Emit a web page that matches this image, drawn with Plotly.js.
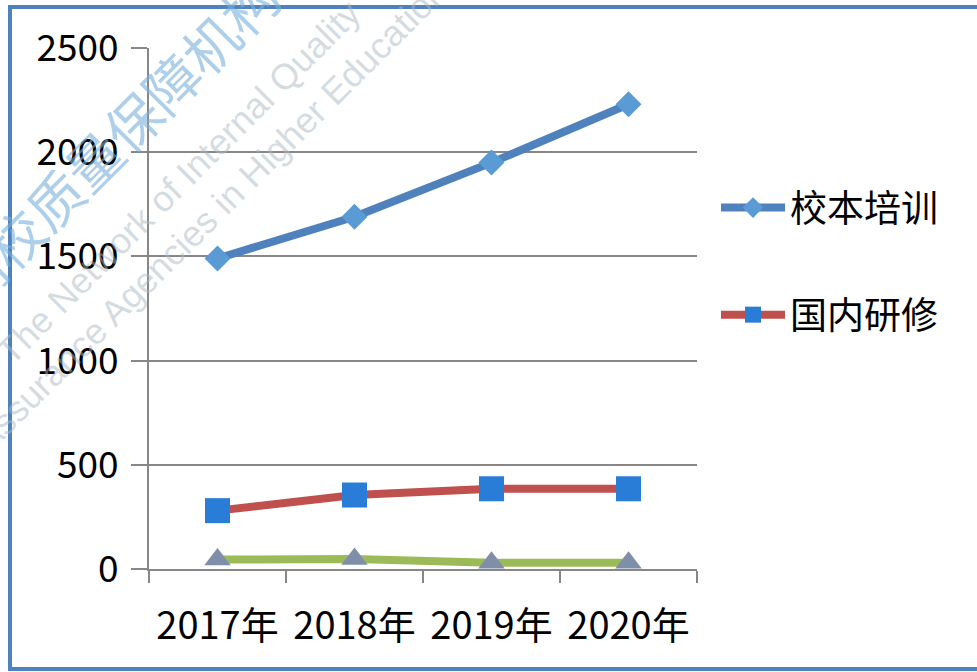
<!DOCTYPE html>
<html>
<head>
<meta charset="utf-8">
<script src="https://cdn.plot.ly/plotly-3.0.1.min.js"></script>
<style>
  html, body { margin: 0; padding: 0; background: #ffffff; }
  #chart { width: 977px; height: 672px; }
</style>
</head>
<body>
<div id="chart"></div>
<script>
// Data
const years = ['2017年', '2018年', '2019年', '2020年'];
const schoolTraining = [1490, 1690, 1950, 2230];   // 校本培训
const domesticStudy = [280, 355, 385, 385];         // 国内研修
const thirdSeries = [45, 48, 30, 30];              // 第三组（图例中未显示）
const seriesNames = ['校本培训', '国内研修', '境外研修'];
const yTicks = [0, 500, 1000, 1500, 2000, 2500];

const W = 977, H = 672;
const M = {l: 149, r: 280, t: 48, b: 103};
const PW = W - M.l - M.r, PH = H - M.t - M.b;
const px = x => (x - M.l) / PW;
const py = y => (H - M.b - y) / PH;

const cjk = '"Noto Sans CJK SC", "Noto Sans", sans-serif';

const traces = [
  {
    x: years, y: schoolTraining, name: seriesNames[0], type: 'scatter', mode: 'lines+markers',
    line: {color: '#4F81BD', width: 8},
    marker: {symbol: 'diamond', size: 20, color: '#5B9BD5'},
    legendgroup: 'a'
  },
  {
    x: years, y: domesticStudy, name: seriesNames[1], type: 'scatter', mode: 'lines+markers',
    line: {color: '#C0504D', width: 8},
    marker: {symbol: 'square', size: 25, color: '#2A7DD6'},
    legendgroup: 'b'
  },
  {
    x: years, y: thirdSeries, name: seriesNames[2], type: 'scatter', mode: 'lines+markers',
    line: {color: '#9BBB59', width: 8},
    marker: {symbol: 'triangle-up', size: 23, color: '#7F8FA9'},
    showlegend: false, legendgroup: 'c'
  }
];

const layout = {
  width: W, height: H,
  margin: M,
  paper_bgcolor: '#ffffff', plot_bgcolor: '#ffffff',
  font: {family: cjk, color: '#000000'},
  showlegend: true,
  legend: {
    x: px(716), y: py(177), xanchor: 'left', yanchor: 'top',
    font: {family: cjk, size: 37, color: '#000000'},
    tracegroupgap: 56, itemwidth: 64, traceorder: 'grouped',
    bgcolor: 'rgba(0,0,0,0)'
  },
  xaxis: {
    type: 'category', range: [-0.5, 3.5], tickson: 'boundaries',
    showgrid: false, showline: true, linecolor: '#878787', linewidth: 2,
    ticks: 'outside', ticklen: 12, tickwidth: 2, tickcolor: '#878787',
    tickfont: {family: cjk, size: 38, color: '#000000'},
    ticklabelstandoff: 22,
    zeroline: false, fixedrange: true
  },
  yaxis: {
    range: [0, 2500], tickvals: yTicks, ticktext: yTicks.map(String),
    showgrid: true, gridcolor: '#878787', gridwidth: 2,
    showline: true, linecolor: '#878787', linewidth: 2,
    ticks: 'outside', ticklen: 16, tickwidth: 2, tickcolor: '#878787',
    tickfont: {family: cjk, size: 37, color: '#000000'},
    ticklabelstandoff: 5,
    zeroline: false, fixedrange: true
  },
  shapes: [
    {
      type: 'rect', xref: 'paper', yref: 'paper',
      x0: px(10), x1: px(990), y0: py(669), y1: py(7),
      line: {color: '#4F81BD', width: 4}, fillcolor: 'rgba(0,0,0,0)', layer: 'above'
    }
  ],
  annotations: [
    {
      text: '高校质量保障机构', xref: 'paper', yref: 'paper',
      x: px(112), y: py(140), xanchor: 'center', yanchor: 'middle',
      textangle: -45, showarrow: false,
      font: {family: cjk, size: 55, color: 'rgba(120,175,220,0.6)'}
    },
    {
      text: 'The Network of Internal Quality', xref: 'paper', yref: 'paper',
      x: px(178), y: py(182), xanchor: 'center', yanchor: 'middle',
      textangle: -45, showarrow: false,
      font: {family: '"Liberation Sans", sans-serif', size: 36, color: 'rgba(170,185,195,0.5)'}
    },
    {
      text: 'Assurance Agencies in Higher Education', xref: 'paper', yref: 'paper',
      x: px(210), y: py(215), xanchor: 'center', yanchor: 'middle',
      textangle: -45, showarrow: false,
      font: {family: '"Liberation Sans", sans-serif', size: 36, color: 'rgba(170,185,195,0.5)'}
    }
  ]
};

Plotly.newPlot('chart', traces, layout, {displayModeBar: false, staticPlot: true});
</script>
</body>
</html>
